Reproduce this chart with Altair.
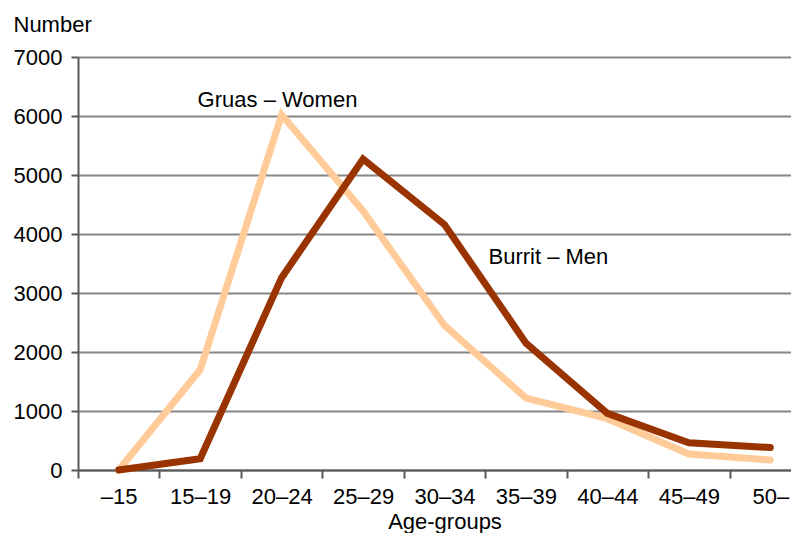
import altair as alt
import pandas as pd

categories = ["–15", "15–19", "20–24", "25–29", "30–34", "35–39", "40–44", "45–49", "50–"]
women = [0, 1700, 6020, 4390, 2450, 1220, 870, 270, 170]
men = [0, 190, 3260, 5270, 4160, 2150, 960, 460, 380]
series_names = ["Gruas – Women", "Burrit – Men"]
series_colors = ["#FFCC99", "#993300"]

rows = []
for name, vals in zip(series_names, [women, men]):
    for i, (c, v) in enumerate(zip(categories, vals)):
        rows.append({"age": c, "value": v, "series": name, "order": i})
df = pd.DataFrame(rows)

label_text = ["Gruas – Women", "Burrit – Men"]
label_age = ["20–24", "30–34"]
label_value = [6150, 3500]

FONT = "Liberation Sans"
FS = 22

x_enc = alt.X("age:N", sort=categories,
              scale=alt.Scale(paddingInner=0, paddingOuter=0),
              axis=alt.Axis(title="Age-groups", labelAngle=0, tickBand="extent",
                            labelFontSize=FS, labelFont=FONT, labelColor="#000000",
                            labelPadding=8, tickSize=8, tickColor="#595959", tickWidth=2,
                            domainColor="#595959", domainWidth=2,
                            titleFontSize=FS, titleFont=FONT, titleFontWeight="normal",
                            titleColor="#000000", titleBaseline="alphabetic", titleY=58,
                            grid=False))
y_enc = alt.Y("value:Q",
              scale=alt.Scale(domain=[0, 7000], nice=False),
              axis=alt.Axis(title="Number", values=list(range(0, 7001, 1000)), format="d",
                            labelFontSize=FS, labelFont=FONT, labelColor="#000000",
                            labelPadding=9, tickSize=7, tickColor="#595959", tickWidth=2,
                            domainColor="#595959", domainWidth=2,
                            grid=True, gridColor="#868686", gridWidth=2,
                            titleFontSize=FS, titleFont=FONT, titleFontWeight="normal",
                            titleColor="#000000", titleAngle=0, titleAlign="left",
                            titleBaseline="alphabetic", titleX=-65, titleY=-26))

lines = alt.Chart(df).mark_line(strokeWidth=7, strokeCap="round", strokeJoin="miter").encode(
    x=x_enc,
    y=y_enc,
    color=alt.Color("series:N", scale=alt.Scale(domain=series_names, range=series_colors), legend=None),
    order="order:Q",
)

def label_layer(i, dx):
    d = pd.DataFrame({"age": [label_age[i]], "value": [label_value[i]], "text": [label_text[i]]})
    return alt.Chart(d).mark_text(
        align="left", baseline="alphabetic", fontSize=FS, font=FONT, color="#000000", dx=dx
    ).encode(x=alt.X("age:N", sort=categories), y="value:Q", text="text:N")

chart = alt.layer(lines, label_layer(0, -84), label_layer(1, 44)).properties(
    width=733, height=413,
    autosize=alt.AutoSizeParams(type="none"),
    padding={"left": 70, "top": 49, "right": -20, "bottom": 63},
).configure_view(stroke=None).configure(background="#ffffff")

chart.save("out.html", embed_options={"renderer": "svg", "actions": False})
